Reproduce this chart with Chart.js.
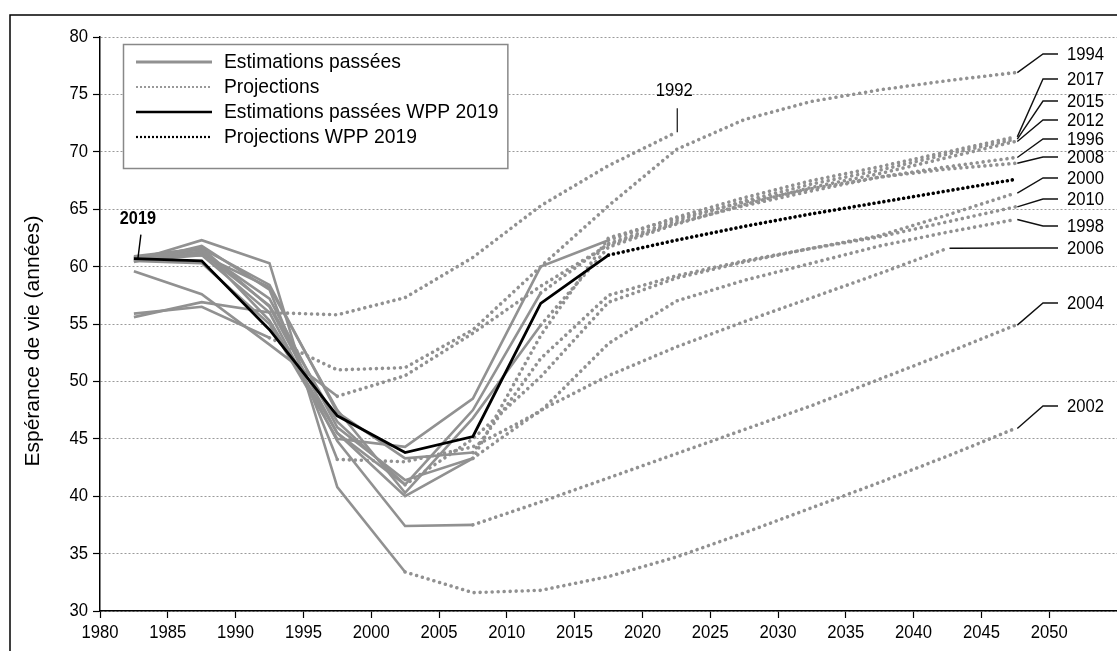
<!DOCTYPE html>
<html>
<head>
<meta charset="utf-8">
<script src="https://cdn.jsdelivr.net/npm/chart.js@4.4.0/dist/chart.umd.min.js"></script>
<style>
  html, body { margin: 0; padding: 0; background: #fff; }
  #boite { width: 1117px; height: 651px; }
</style>
</head>
<body>
<div id="boite"><canvas id="graphique" width="1117" height="651"></canvas></div>
<script>
// periodes quinquennales (milieu de periode)
const periodes = [1982.5, 1987.5, 1992.5, 1997.5, 2002.5, 2007.5, 2012.5, 2017.5, 2022.5, 2027.5, 2032.5, 2037.5, 2042.5, 2047.5];

// esperance de vie par revision WPP (estimations puis projections)
const rev1992 = [55.6, 56.9, 56.0, 55.8, 57.3, 60.8, 65.3, 68.8, 71.7, null, null, null, null, null];
const rev1994 = [55.9, 56.5, 53.8, 51.0, 51.2, 54.5, 60.0, 65.3, 70.2, 72.8, 74.4, 75.4, 76.2, 76.9];
const rev1996 = [59.6, 57.6, 53.2, 48.7, 50.5, 54.2, 58.3, 61.9, 63.8, 65.3, 66.6, 67.8, 68.7, 69.5];
const rev1998 = [60.4, 61.8, 58.0, 43.2, 43.0, 44.3, 47.4, 53.3, 57.0, 58.8, 60.3, 61.8, 63.0, 64.1];
const rev2000 = [60.8, 61.6, 56.5, 45.5, 41.0, 45.0, 50.4, 56.9, 59.0, 60.4, 61.6, 62.7, 64.5, 66.4];
const rev2002 = [60.5, 62.3, 60.3, 40.8, 33.4, 31.6, 31.8, 33.0, 34.7, 36.8, 39.0, 41.2, 43.5, 45.9];
const rev2004 = [60.5, 61.0, 56.0, 44.8, 37.4, 37.5, 39.5, 41.6, 43.7, 45.8, 47.9, 50.2, 52.5, 54.9];
const rev2006 = [60.7, 61.5, 55.3, 45.5, 40.0, 43.3, 47.5, 50.5, 53.0, 55.2, 57.3, 59.4, 61.6, null];
const rev2008 = [60.6, 61.3, 57.2, 46.0, 41.4, 43.3, 54.0, 62.5, 64.2, 65.6, 66.8, 67.8, 68.5, 69.0];
const rev2010 = [60.9, 61.6, 58.4, 47.3, 43.3, 43.8, 52.0, 57.5, 59.2, 60.5, 61.6, 62.6, 63.9, 65.2];
const rev2012 = [60.8, 61.0, 58.2, 47.5, 40.3, 46.8, 54.9, 61.7, 63.7, 65.4, 66.9, 68.1, 69.5, 70.9];
const rev2015 = [60.7, 61.2, 56.6, 46.5, 41.0, 47.5, 57.7, 62.0, 64.0, 65.7, 67.2, 68.4, 69.8, 71.1];
const rev2017 = [60.5, 60.3, 55.0, 45.0, 44.3, 48.5, 60.0, 62.3, 64.3, 66.0, 67.5, 68.7, 70.0, 71.3];
const rev2019 = [60.7, 60.5, 54.5, 47.0, 43.8, 45.2, 56.8, 61.0, 62.3, 63.5, 64.6, 65.6, 66.6, 67.6];

const revisions = ['1992', '1994', '1996', '1998', '2000', '2002', '2004', '2006', '2008', '2010', '2012', '2015', '2017', '2019'];
const series = [rev1992, rev1994, rev1996, rev1998, rev2000, rev2002, rev2004, rev2006, rev2008, rev2010, rev2012, rev2015, rev2017, rev2019];
// premiere periode projetee de chaque revision
const debutProjection = [1992.5, 1992.5, 1997.5, 1997.5, 2002.5, 2002.5, 2007.5, 2007.5, 2007.5, 2007.5, 2012.5, 2012.5, 2017.5, 2017.5];

const anneesAxe = [1980, 1985, 1990, 1995, 2000, 2005, 2010, 2015, 2020, 2025, 2030, 2035, 2040, 2045, 2050];
const valeursAxe = [30, 35, 40, 45, 50, 55, 60, 65, 70, 75, 80];
const legendes = ['Estimations passées', 'Projections', 'Estimations passées WPP 2019', 'Projections WPP 2019'];

const police = '"Liberation Sans", Arial, sans-serif';
const gris = 'rgb(145,145,145)';

function morceau(valeurs, de, a) {
    var pts = [];
    for (var i = 0; i < periodes.length; i++) {
        if (periodes[i] >= de && periodes[i] <= a && valeurs[i] != null) {
            pts.push({x: periodes[i], y: valeurs[i]});
        }
    }
    return pts;
}

var jeux = [];
for (var i = 0; i < revisions.length; i++) {
    var noir = revisions[i] == '2019';
    var ordre = noir ? 0 : 1;
    jeux.push({
        label: revisions[i] + ' est',
        data: morceau(series[i], 0, debutProjection[i]),
        borderColor: noir ? '#000' : gris,
        borderWidth: noir ? 2.8 : 2.6,
        order: ordre
    });
    jeux.push({
        label: revisions[i] + ' proj',
        data: morceau(series[i], debutProjection[i], 3000),
        borderColor: noir ? '#000' : gris,
        borderWidth: 3.6,
        borderDash: noir ? [0.01, 5] : [0.01, 6],
        borderCapStyle: 'round',
        order: ordre
    });
}

// position verticale des etiquettes a droite (pixels)
const etiquettesDroite = {
    '1994': 54, '2017': 79, '2015': 101, '2012': 120, '1996': 139, '2008': 157,
    '2000': 178, '2010': 199, '1998': 226, '2006': 248, '2004': 303, '2002': 406
};

// texte un peu resserre, comme dans l'original
function ecrire(ctx, txt, x, y, align, taille, serre, gras) {
    ctx.save();
    ctx.translate(x, y);
    ctx.scale(serre, 1);
    ctx.font = (gras ? 'bold ' : '') + taille + 'px ' + police;
    ctx.textAlign = align;
    ctx.textBaseline = 'middle';
    ctx.fillStyle = '#000';
    ctx.fillText(txt, 0, 0);
    ctx.restore();
}

const decor = {
    id: 'decor',
    beforeDraw(chart) {
        var ctx = chart.ctx;
        ctx.save();
        ctx.fillStyle = '#fff';
        ctx.fillRect(0, 0, chart.width, chart.height);
        ctx.strokeStyle = '#000';
        ctx.lineWidth = 1.5;
        ctx.beginPath();
        ctx.moveTo(10, chart.height + 5);
        ctx.lineTo(10, 15);
        ctx.lineTo(chart.width + 5, 15);
        ctx.stroke();
        ctx.restore();
    },
    afterDatasetsDraw(chart) {
        var ctx = chart.ctx;
        var sx = chart.scales.x, sy = chart.scales.y;
        var chiffres = 0.9;
        ctx.save();

        // graduations
        anneesAxe.forEach(function (a) {
            ecrire(ctx, String(a), sx.getPixelForValue(a), 633, 'center', 18.5, chiffres);
        });
        valeursAxe.forEach(function (v) {
            ecrire(ctx, String(v), 88, sy.getPixelForValue(v), 'right', 18.5, chiffres);
        });

        // etiquettes des revisions a droite
        for (var i = 0; i < revisions.length; i++) {
            var r = revisions[i];
            if (!(r in etiquettesDroite)) continue;
            var v = series[i];
            var k = v.length - 1;
            while (v[k] == null) k--;
            var px = sx.getPixelForValue(periodes[k]) + 2;
            var py = sy.getPixelForValue(v[k]);
            var ly = etiquettesDroite[r];
            ctx.strokeStyle = '#111';
            ctx.lineWidth = 1.4;
            ctx.beginPath();
            ctx.moveTo(px, py);
            ctx.lineTo(Math.max(px, 1043), ly);
            ctx.lineTo(1058, ly);
            ctx.stroke();
            ecrire(ctx, r, 1067, ly + 1, 'left', 18.5, chiffres);
        }

        // etiquette 1992
        var k92 = 8;
        var x92 = sx.getPixelForValue(periodes[k92]) + 1;
        var y92 = sy.getPixelForValue(rev1992[k92]);
        ctx.strokeStyle = '#333';
        ctx.lineWidth = 1.4;
        ctx.beginPath();
        ctx.moveTo(x92, y92);
        ctx.lineTo(x92, y92 - 24);
        ctx.stroke();
        ecrire(ctx, '1992', x92 - 3, y92 - 41, 'center', 18.5, chiffres);

        // etiquette 2019
        var x19 = sx.getPixelForValue(periodes[0]);
        var y19 = sy.getPixelForValue(rev2019[0]);
        ctx.strokeStyle = '#000';
        ctx.beginPath();
        ctx.moveTo(x19 + 4, y19);
        ctx.lineTo(x19 + 7, y19 - 24);
        ctx.stroke();
        ecrire(ctx, '2019', x19 + 4, y19 - 40, 'center', 18.5, 0.88, true);

        // titre de l'axe vertical
        ctx.save();
        ctx.translate(33, 341);
        ctx.rotate(-Math.PI / 2);
        ctx.font = '21px ' + police;
        ctx.textAlign = 'center';
        ctx.textBaseline = 'middle';
        ctx.fillStyle = '#000';
        ctx.fillText('Espérance de vie (années)', 0, 0);
        ctx.restore();

        // legende
        var tl = 19.3;
        ctx.font = tl + 'px ' + police;
        var large = 224 + ctx.measureText(legendes[2]).width + 9 - 123;
        ctx.fillStyle = '#fff';
        ctx.fillRect(123, 44, large, 124);
        ctx.strokeStyle = '#888';
        ctx.lineWidth = 1.5;
        ctx.strokeRect(123.5, 44.5, large, 124);
        var styles = [
            {c: gris, w: 3, d: []},
            {c: '#999', w: 2, d: [2, 2]},
            {c: '#000', w: 2.5, d: []},
            {c: '#000', w: 2.2, d: [2, 2]}
        ];
        for (var j = 0; j < legendes.length; j++) {
            var yy = 62 + j * 25;
            ctx.strokeStyle = styles[j].c;
            ctx.lineWidth = styles[j].w;
            ctx.setLineDash(styles[j].d);
            ctx.beginPath();
            ctx.moveTo(136, yy);
            ctx.lineTo(212, yy);
            ctx.stroke();
            ctx.setLineDash([]);
            ecrire(ctx, legendes[j], 224, yy + 1, 'left', tl, 1);
        }
        ctx.restore();
    }
};

new Chart(document.getElementById('graphique'), {
    type: 'line',
    data: { datasets: jeux },
    plugins: [decor],
    options: {
        responsive: false,
        animation: false,
        layout: { padding: { top: 37, left: 0, right: 0, bottom: 0 } },
        plugins: { legend: { display: false }, tooltip: { enabled: false } },
        elements: { point: { radius: 0 }, line: { tension: 0 } },
        scales: {
            x: {
                type: 'linear', min: 1980, max: 2055,
                afterFit: function (s) { s.height = 40; },
                afterBuildTicks: function (s) { s.ticks = anneesAxe.map(function (a) { return {value: a}; }); },
                grid: { drawOnChartArea: false, drawTicks: true, tickLength: 7, tickColor: '#000', tickWidth: 1.2 },
                border: { color: '#000', width: 1.5 },
                ticks: { display: false }
            },
            y: {
                min: 30, max: 80,
                afterFit: function (s) { s.width = 100; },
                grid: { color: '#9a9a9a', lineWidth: 1, tickLength: 7, tickColor: '#000', tickWidth: 1.2, tickBorderDash: [10, 0] },
                border: { color: '#000', width: 1.5, dash: [2, 2] },
                ticks: { display: false, stepSize: 5 }
            }
        }
    }
});
</script>
</body>
</html>
